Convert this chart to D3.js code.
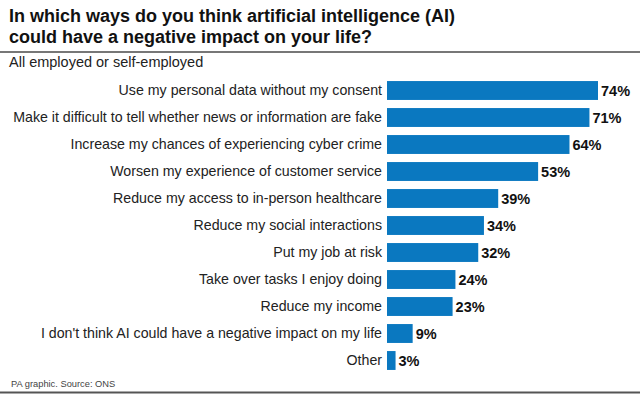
<!DOCTYPE html>
<meta charset="utf-8">
<style>
    body { margin: 0; background: #fff; }
    text { font-family: "Liberation Sans", Arial, sans-serif; }
    .title { font-size: 18px; font-weight: bold; fill: #111; }
    .sub { font-size: 14.5px; fill: #222; }
    .label { font-size: 14.2px; fill: #222; }
    .value { font-size: 14.5px; font-weight: bold; fill: #111; }
    .foot { font-size: 9.3px; fill: #444; }
</style>
<body>
<script src="https://d3js.org/d3.v7.min.js"></script>
<script>
    // Data
    var categories = [
        "Use my personal data without my consent",
        "Make it difficult to tell whether news or information are fake",
        "Increase my chances of experiencing cyber crime",
        "Worsen my experience of customer service",
        "Reduce my access to in-person healthcare",
        "Reduce my social interactions",
        "Put my job at risk",
        "Take over tasks I enjoy doing",
        "Reduce my income",
        "I don't think AI could have a negative impact on my life",
        "Other"
    ];
    var values = [74, 71, 64, 53, 39, 34, 32, 24, 23, 9, 3];

    var width = 640, height = 394;
    var svg = d3.select("body").append("svg")
        .attr("width", width)
        .attr("height", height);

    // Title block
    svg.append("text").attr("class", "title").attr("x", 9).attr("y", 22)
        .text("In which ways do you think artificial intelligence (AI)");
    svg.append("text").attr("class", "title").attr("x", 9).attr("y", 43)
        .text("could have a negative impact on your life?");
    svg.append("line")
        .attr("x1", 0).attr("x2", width).attr("y1", 52).attr("y2", 52)
        .attr("stroke", "#777").attr("stroke-width", 2);
    svg.append("text").attr("class", "sub").attr("x", 9).attr("y", 67)
        .text("All employed or self-employed");

    // Scales
    var x = d3.scaleLinear().domain([0, 74]).range([387, 598]);
    var y = d3.scaleBand().domain(categories).range([77, 374]).paddingInner(0.3).paddingOuter(0.15);

    var row = svg.append("g")
        .selectAll("g")
        .data(categories)
        .enter().append("g");

    row.append("rect")
        .attr("x", x(0))
        .attr("y", d => y(d))
        .attr("width", (d, i) => x(values[i]) - x(0))
        .attr("height", y.bandwidth())
        .attr("fill", "#0a78c0");

    row.append("text")
        .attr("class", "label")
        .attr("x", x(0) - 5)
        .attr("y", d => y(d) + y.bandwidth() / 2)
        .attr("dy", "0.35em")
        .attr("text-anchor", "end")
        .text(d => d);

    row.append("text")
        .attr("class", "value")
        .attr("x", (d, i) => x(values[i]) + 3)
        .attr("y", d => y(d) + y.bandwidth() / 2)
        .attr("dy", "0.36em")
        .text((d, i) => values[i] + "%");

    // Footer
    svg.append("text").attr("class", "foot").attr("x", 11).attr("y", 387)
        .text("PA graphic. Source: ONS");
    svg.append("line")
        .attr("x1", 0).attr("x2", width).attr("y1", 392.5).attr("y2", 392.5)
        .attr("stroke", "#555").attr("stroke-width", 2);
</script>
</body>
